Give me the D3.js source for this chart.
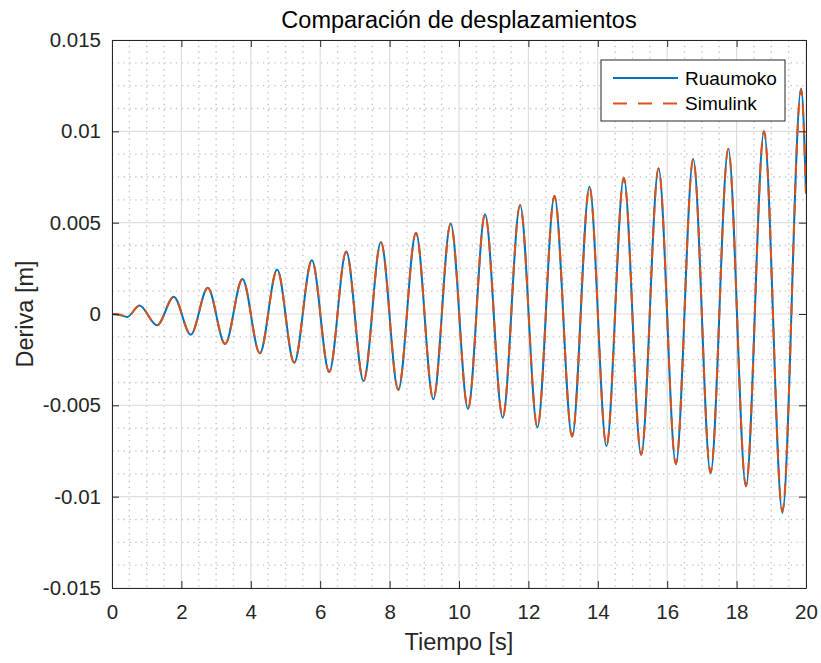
<!DOCTYPE html>
<html>
<head>
<meta charset="utf-8">
<script src="https://cdn.jsdelivr.net/npm/d3@7"></script>
<style>
  html, body { margin: 0; padding: 0; background: #fff; }
  svg { display: block; font-family: "Liberation Sans", Arial, Helvetica, sans-serif; }
</style>
</head>
<body>
<svg id="chart" width="821" height="663"></svg>
<script>
// ---- Data (extrema of the response) ----
const timeRuaumoko = [0, 0.23, 0.44, 0.79, 1.3, 1.78, 2.27, 2.76, 3.26, 3.76, 4.26, 4.76, 5.25, 5.76, 6.26, 6.75, 7.25, 7.75, 8.25, 8.76, 9.26, 9.76, 10.26, 10.75, 11.26, 11.76, 12.26, 12.75, 13.26, 13.76, 14.25, 14.75, 15.25, 15.75, 16.25, 16.75, 17.25, 17.76, 18.27, 18.79, 19.32, 19.86, 20];
const ruaumoko = [0, -0.00005, -0.00016, 0.00046, -0.00062, 0.00094, -0.00113, 0.00144, -0.00164, 0.00192, -0.00215, 0.00243, -0.00267, 0.00294, -0.00318, 0.00342, -0.00367, 0.00394, -0.00416, 0.00445, -0.00467, 0.00495, -0.00519, 0.00546, -0.00568, 0.00597, -0.00621, 0.00647, -0.00672, 0.00696, -0.00723, 0.00746, -0.00772, 0.00798, -0.00823, 0.00849, -0.00872, 0.00904, -0.00944, 0.01001, -0.01088, 0.01234, 0.0066];
const timeSimulink = [0, 0.23, 0.44, 0.79, 1.3, 1.78, 2.27, 2.76, 3.26, 3.76, 4.26, 4.76, 5.25, 5.76, 6.26, 6.75, 7.25, 7.75, 8.25, 8.76, 9.26, 9.76, 10.26, 10.75, 11.26, 11.76, 12.26, 12.75, 13.26, 13.76, 14.25, 14.75, 15.25, 15.75, 16.25, 16.75, 17.25, 17.76, 18.27, 18.79, 19.32, 19.86, 20];
const simulink = [0, -0.00004, -0.00015, 0.00045, -0.00061, 0.00093, -0.00112, 0.00143, -0.00163, 0.00191, -0.00214, 0.00242, -0.00265, 0.00293, -0.00316, 0.00341, -0.00365, 0.00393, -0.00414, 0.00444, -0.00465, 0.00494, -0.00517, 0.00545, -0.00566, 0.00596, -0.00619, 0.00646, -0.00669, 0.00695, -0.0072, 0.00745, -0.00769, 0.00797, -0.0082, 0.00848, -0.00868, 0.00903, -0.0094, 0.01, -0.01078, 0.01228, 0.0066];

const xTicks = [0, 2, 4, 6, 8, 10, 12, 14, 16, 18, 20];
const xTickLabels = ["0", "2", "4", "6", "8", "10", "12", "14", "16", "18", "20"];
const yTicks = [-0.015, -0.01, -0.005, 0, 0.005, 0.01, 0.015];
const yTickLabels = ["-0.015", "-0.01", "-0.005", "0", "0.005", "0.01", "0.015"];
const xMinor = d3.range(0, 20.001, 0.5);
const yMinor = d3.range(-0.015, 0.01501, 0.00125);

const seriesNames = ["Ruaumoko", "Simulink"];
const colors = ["#0072BD", "#D95319"];
const titleText = "Comparación de desplazamientos";
const xLabel = "Tiempo [s]";
const yLabel = "Deriva [m]";

// ---- Layout ----
const W = 821, H = 663;
const m = { left: 112, top: 40, right: 15, bottom: 75 };
const pw = W - m.left - m.right, ph = H - m.top - m.bottom;

const svg = d3.select("#chart");
const x = d3.scaleLinear().domain([0, 20]).range([m.left, m.left + pw]);
const y = d3.scaleLinear().domain([-0.015, 0.015]).range([m.top + ph, m.top]);

const g = svg.append("g");

// background
g.append("rect").attr("x", m.left).attr("y", m.top).attr("width", pw).attr("height", ph).attr("fill", "#fff");

// minor grid (dotted)
const isMajorX = v => xTicks.some(t => Math.abs(t - v) < 1e-9);
const isMajorY = v => yTicks.some(t => Math.abs(t - v) < 1e-9);
const minorColor = "#c4c4c4";
g.append("g").selectAll("line").data(xMinor.filter(v => !isMajorX(v))).join("line")
  .attr("x1", d => x(d)).attr("x2", d => x(d)).attr("y1", m.top).attr("y2", m.top + ph)
  .attr("stroke", minorColor).attr("stroke-width", 1.4).attr("stroke-dasharray", "1.4,4.4");
g.append("g").selectAll("line").data(yMinor.filter(v => !isMajorY(v))).join("line")
  .attr("y1", d => y(d)).attr("y2", d => y(d)).attr("x1", m.left).attr("x2", m.left + pw)
  .attr("stroke", minorColor).attr("stroke-width", 1.4).attr("stroke-dasharray", "1.4,4.4");

// major grid
g.append("g").selectAll("line").data(xTicks).join("line")
  .attr("x1", d => x(d)).attr("x2", d => x(d)).attr("y1", m.top).attr("y2", m.top + ph)
  .attr("stroke", "#dedede").attr("stroke-width", 1.2);
g.append("g").selectAll("line").data(yTicks).join("line")
  .attr("y1", d => y(d)).attr("y2", d => y(d)).attr("x1", m.left).attr("x2", m.left + pw)
  .attr("stroke", "#dedede").attr("stroke-width", 1.2);

// lines
svg.append("defs").append("clipPath").attr("id", "clip")
  .append("rect").attr("x", m.left).attr("y", m.top).attr("width", pw).attr("height", ph);
const line = d3.line().x(d => x(d[0])).y(d => y(d[1])).curve(d3.curveMonotoneX);
const dataR = timeRuaumoko.map((t, i) => [t, ruaumoko[i]]);
const dataS = timeSimulink.map((t, i) => [t, simulink[i]]);
const plot = g.append("g").attr("clip-path", "url(#clip)");
plot.append("path").datum(dataR).attr("d", line).attr("fill", "none")
  .attr("stroke", colors[0]).attr("stroke-width", 2).attr("stroke-linejoin", "round");
plot.append("path").datum(dataS).attr("d", line).attr("fill", "none")
  .attr("stroke", colors[1]).attr("stroke-width", 2).attr("stroke-dasharray", "12,8");

// axes (box with inward ticks)
const axisColor = "#262626";
const tickLen = 7;
const xAxisB = d3.axisBottom(x).tickValues(xTicks).tickFormat((d, i) => xTickLabels[i]).tickSizeInner(-tickLen).tickSizeOuter(0).tickPadding(16);
const xAxisT = d3.axisTop(x).tickValues(xTicks).tickFormat("").tickSizeInner(-tickLen).tickSizeOuter(0);
const yAxisL = d3.axisLeft(y).tickValues(yTicks).tickFormat((d, i) => yTickLabels[i]).tickSizeInner(-tickLen).tickSizeOuter(0).tickPadding(11);
const yAxisR = d3.axisRight(y).tickValues(yTicks).tickFormat("").tickSizeInner(-tickLen).tickSizeOuter(0);

function styleAxis(sel) {
  sel.select(".domain").attr("stroke", axisColor).attr("stroke-width", 1);
  sel.selectAll(".tick line").attr("stroke", axisColor).attr("stroke-width", 1);
  sel.selectAll(".tick text").attr("fill", "#262626").style("font-size", "20.5px")
    .style("font-family", '"Liberation Sans", Arial, sans-serif');
}
g.append("g").attr("transform", `translate(0,${m.top + ph})`).call(xAxisB).call(styleAxis);
g.append("g").attr("transform", `translate(0,${m.top})`).call(xAxisT).call(styleAxis);
g.append("g").attr("transform", `translate(${m.left},0)`).call(yAxisL).call(styleAxis);
g.append("g").attr("transform", `translate(${m.left + pw},0)`).call(yAxisR).call(styleAxis);

// title and labels
svg.append("text").attr("x", m.left + pw / 2).attr("y", 28).attr("text-anchor", "middle")
  .style("font-size", "23.5px").attr("fill", "#000").text(titleText);
svg.append("text").attr("x", m.left + pw / 2).attr("y", 650).attr("text-anchor", "middle")
  .style("font-size", "23.5px").attr("fill", "#262626").text(xLabel);
svg.append("text").attr("transform", `translate(33,${m.top + ph / 2}) rotate(-90)`).attr("text-anchor", "middle")
  .style("font-size", "23.5px").attr("fill", "#262626").text(yLabel);

// legend
const lg = svg.append("g");
lg.append("rect").attr("x", 601).attr("y", 60).attr("width", 184).attr("height", 61)
  .attr("fill", "#fff").attr("stroke", axisColor).attr("stroke-width", 1);
seriesNames.forEach((name, i) => {
  const yy = 78 + i * 25.5;
  lg.append("line").attr("x1", 613).attr("x2", 678).attr("y1", yy).attr("y2", yy)
    .attr("stroke", colors[i]).attr("stroke-width", 2)
    .attr("stroke-dasharray", i === 1 ? "14,11" : null);
  lg.append("text").attr("x", 685).attr("y", yy).attr("dy", "0.35em")
    .style("font-size", "19px").attr("fill", "#000").text(name);
});
</script>
</body>
</html>
